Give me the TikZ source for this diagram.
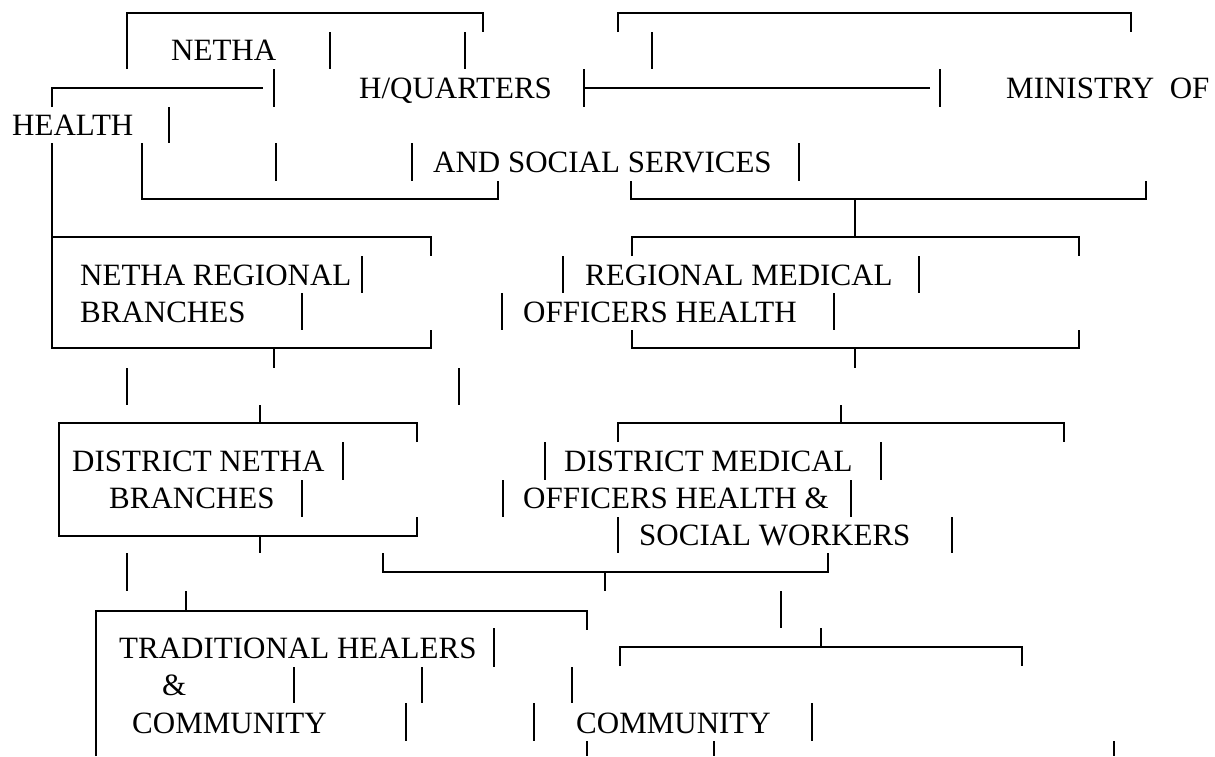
\documentclass[tikz,border=0pt]{standalone}
\usepackage{fontspec}
\setmainfont{Liberation Serif}

\begin{document}
\begin{tikzpicture}[x=1pt, y=-1pt, line width=2.4pt]
  \tikzset{lbl/.style={anchor=base west, inner sep=0pt, font=\fontsize{31}{37}\selectfont}}
  \useasboundingbox (0,0) rectangle (1215,756);

  % headquarters and ministry
  \draw (127,69) -- (127,13) -- (483,13) -- (483,32);
  \draw (618,32) -- (618,13) -- (1131,13) -- (1131,32);
  \draw (52,107) -- (52,88) -- (263,88);
  \draw (584,69) -- (584,107);
  \draw (584,88) -- (930,88);
  \draw (142,143) -- (142,199) -- (498,199) -- (498,181);
  \draw (631,181) -- (631,199) -- (1146,199) -- (1146,181);
  \draw (855,199) -- (855,237);
  \node[lbl] (netha) at (170,60) {NETHA};
  \node[lbl] (hq) at (358,98) {H/QUARTERS};
  \node[lbl] (ministry) at (1005,98) {MINISTRY~ OF};
  \node[lbl] (health) at (11,135) {HEALTH};
  \node[lbl] (social) at (432,172) {AND SOCIAL SERVICES};

  % regional level
  \draw (52,143) -- (52,348) -- (431,348) -- (431,330);
  \draw (52,237) -- (431,237) -- (431,256);
  \draw (274,348) -- (274,368);
  \draw (632,256) -- (632,237) -- (1079,237) -- (1079,256);
  \draw (632,330) -- (632,348) -- (1079,348) -- (1079,330);
  \draw (855,348) -- (855,368);
  \node[lbl] (regnetha) at (79,285) {NETHA REGIONAL};
  \node[lbl] (regbranch) at (79,322) {BRANCHES};
  \node[lbl] (regmed) at (584,285) {REGIONAL MEDICAL};
  \node[lbl] (regoff) at (522,322) {OFFICERS HEALTH};

  % district level
  \draw (260,405) -- (260,423);
  \draw (417,442) -- (417,423) -- (59,423) -- (59,536) -- (417,536) -- (417,517);
  \draw (260,536) -- (260,553);
  \draw (841,405) -- (841,423);
  \draw (618,442) -- (618,423) -- (1064,423) -- (1064,442);
  \draw (383,553) -- (383,572) -- (828,572) -- (828,553);
  \draw (605,572) -- (605,591);
  \node[lbl] (distnetha) at (71,471) {DISTRICT NETHA};
  \node[lbl] (distbranch) at (108,508) {BRANCHES};
  \node[lbl] (distmed) at (563,471) {DISTRICT MEDICAL};
  \node[lbl] (distoff) at (522,508) {OFFICERS HEALTH \&};
  \node[lbl] (distsoc) at (638,545) {SOCIAL WORKERS};

  % community level
  \draw (186,591) -- (186,611);
  \draw (96,756) -- (96,611) -- (587,611) -- (587,630);
  \draw (821,628) -- (821,647);
  \draw (620,666) -- (620,647) -- (1022,647) -- (1022,666);
  \node[lbl] (healers) at (118,658) {TRADITIONAL HEALERS};
  \node[lbl] (amp) at (161,695) {\&};
  \node[lbl] (commleft) at (131,733) {COMMUNITY};
  \node[lbl] (commright) at (575,733) {COMMUNITY};

  % loose bars
  \foreach \x/\ya/\yb in {330/32/69, 465/32/69, 652/32/69, 274/69/107, 940/69/107,
      169/107/143, 276/143/181, 412/143/181, 799/143/181,
      362/256/293, 563/256/293, 919/256/293, 302/293/330, 502/293/330, 834/293/330,
      127/368/405, 459/368/405,
      343/442/480, 545/442/480, 881/442/480, 302/480/517, 503/480/517, 851/480/517,
      618/517/553, 952/517/553, 127/553/591, 781/591/628,
      494/628/667, 294/667/703, 422/667/703, 572/667/703,
      406/703/741, 534/703/741, 812/703/741,
      587/741/756, 714/741/756, 1114/741/756}
    \draw (\x,\ya) -- (\x,\yb);
\end{tikzpicture}
\end{document}
